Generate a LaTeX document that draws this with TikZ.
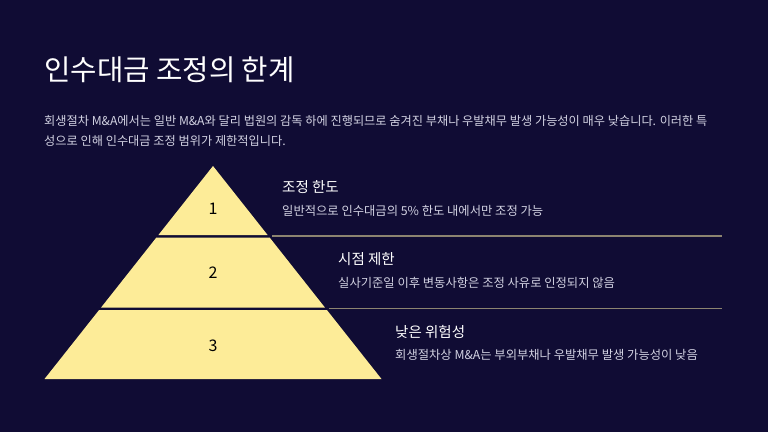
\documentclass[tikz,border=0pt]{standalone}
\usepackage{fontspec}
\setmainfont{Noto Sans CJK KR}
\usetikzlibrary{positioning}
\definecolor{pagebg}{RGB}{16,12,52}
\definecolor{tierfill}{RGB}{253,236,152}
\definecolor{rulegold}{RGB}{140,132,112}
\definecolor{softtext}{RGB}{210,210,226}
\tikzset{
  tier/.style={fill=tierfill},
  tier number/.style={
    inner sep=0pt, text=black, font=\fontsize{16}{19}\selectfont
  },
  heading/.style={
    anchor=west, inner sep=0pt, text=white, font=\fontsize{14.5}{17}\selectfont
  },
  detail/.style={
    anchor=west, inner sep=0pt, text=softtext, font=\fontsize{12.3}{15}\selectfont
  },
  divider/.style={
    draw=rulegold, line width=1.3pt
  }
}

\begin{document}
\begin{tikzpicture}[x=1pt,y=-1pt]
\fill[pagebg] (0,0) rectangle (768,432);
\useasboundingbox (0,0) rectangle (768,432);

% title and intro
\node[anchor=west, inner sep=0pt, text=white, font=\fontsize{28.7}{32}\selectfont] (title) at (44,70) {인수대금 조정의 한계};
\node[anchor=west, inner sep=0pt, text=softtext, font=\fontsize{12.2}{15}\selectfont] (intro1) at (44,121) {회생절차 M\&A에서는 일반 M\&A와 달리 법원의 감독 하에 진행되므로 숨겨진 부채나 우발채무 발생 가능성이 매우 낮습니다. 이러한 특};
\node[anchor=west, inner sep=0pt, text=softtext, font=\fontsize{12.2}{15}\selectfont] (intro2) at (44,141) {성으로 인해 인수대금 조정 범위가 제한적입니다.};

% pyramid
\fill[tier] (213,166) -- (267.6,235) -- (158.4,235) -- cycle;
\fill[tier] (156.4,237.5) -- (269.6,237.5) -- (324.9,307.5) -- (101.1,307.5) -- cycle;
\fill[tier] (99.1,310) -- (326.9,310) -- (381.5,379) -- (44.5,379) -- cycle;
\foreach \n/\y in {1/209,2/273,3/346}
  \node[tier number] (num\n) at (213,\y) {\n};

% dividers
\coordinate (rule1a) at (272,236);
\coordinate (rule1b) at (722,236);
\coordinate (rule2a) at (329,308.5);
\coordinate (rule2b) at (722,308.5);
\draw[divider] (rule1a) -- (rule1b);
\draw[divider] (rule2a) -- (rule2b);

% tier texts
\node[heading] (head1) at (282,187) {조정 한도};
\node[detail] (desc1) at (282,211) {일반적으로 인수대금의 5\% 한도 내에서만 조정 가능};
\node[heading] (head2) at (338,259) {시점 제한};
\node[detail] (desc2) at (338,283) {실사기준일 이후 변동사항은 조정 사유로 인정되지 않음};
\node[heading] (head3) at (395,332) {낮은 위험성};
\node[detail] (desc3) at (395,355) {회생절차상 M\&A는 부외부채나 우발채무 발생 가능성이 낮음};
\end{tikzpicture}
\end{document}
